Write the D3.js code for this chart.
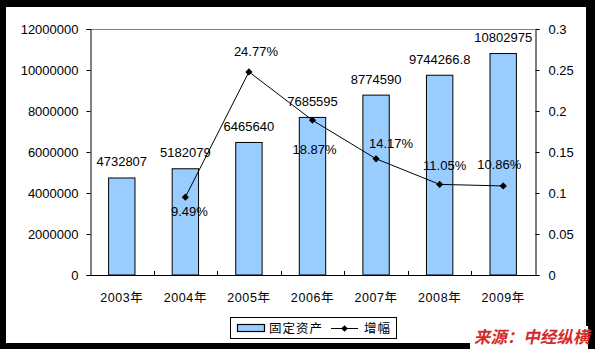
<!DOCTYPE html>
<html>
<head>
<meta charset="utf-8">
<script src="https://cdn.jsdelivr.net/npm/d3@7/dist/d3.min.js"></script>
<style>
  html, body { margin: 0; padding: 0; background: #000; }
  svg { display: block; }
  text { font-family: "Liberation Sans", Arial, "Noto Sans CJK SC", sans-serif; }
</style>
</head>
<body>
<svg id="chart" width="595" height="349"></svg>
<script>
// Fixed-asset investment by year and its year-on-year growth
const years = ["2003年", "2004年", "2005年", "2006年", "2007年", "2008年", "2009年"];
const assetValues = [4732807, 5182079, 6465640, 7685595, 8774590, 9744266.8, 10802975];
const assetLabels = ["4732807", "5182079", "6465640", "7685595", "8774590", "9744266.8", "10802975"];
const growthYears = ["2004年", "2005年", "2006年", "2007年", "2008年", "2009年"];
const growthValues = [0.0949, 0.2477, 0.1887, 0.1417, 0.1105, 0.1086];
const growthLabels = ["9.49%", "24.77%", "18.87%", "14.17%", "11.05%", "10.86%"];
const leftTicks = [0, 2000000, 4000000, 6000000, 8000000, 10000000, 12000000];
const rightTicks = [0, 0.05, 0.1, 0.15, 0.2, 0.25, 0.3];
const legendNames = ["固定资产", "增幅"];
const sourceText = "来源：中经纵横";

// Label placement around each growth point (dx, dy of baseline)
const growthLabelOffsets = [[4, 19], [7, -16], [2, 34], [15, -11], [5, -14], [-4, -17]];

const svg = d3.select("#chart");
const W = 595, H = 349;
const plot = { left: 90, right: 535, top: 29, bottom: 275 };

// white canvas inside the black frame
svg.append("rect").attr("x", 6).attr("y", 7).attr("width", 580).attr("height", 336).attr("fill", "#fff");

const x = d3.scaleBand().domain(years).range([plot.left, plot.right]).padding(0);
const yL = d3.scaleLinear().domain([0, 12000000]).range([plot.bottom, plot.top]);
const yR = d3.scaleLinear().domain([0, 0.3]).range([plot.bottom, plot.top]);

// plot top edge
svg.append("line")
  .attr("x1", plot.left).attr("x2", plot.right)
  .attr("y1", plot.top + 0.5).attr("y2", plot.top + 0.5)
  .attr("stroke", "#808080").attr("stroke-width", 1);

// bars
const barW = x.bandwidth() * 0.415;
svg.append("g").selectAll("rect")
  .data(assetValues)
  .join("rect")
  .attr("x", (d, i) => x(years[i]) + (x.bandwidth() - barW) / 2)
  .attr("y", d => yL(d))
  .attr("width", barW)
  .attr("height", d => plot.bottom - yL(d))
  .attr("fill", "#99CCFF")
  .attr("stroke", "#000")
  .attr("stroke-width", 1);

// left axis
const leftAxis = d3.axisLeft(yL).tickValues(leftTicks).tickFormat(d3.format("d")).tickSize(4).tickPadding(8);
const gL = svg.append("g").attr("transform", `translate(${plot.left + 0.5},0)`).call(leftAxis);
gL.select(".domain").attr("stroke", "#000");
gL.selectAll(".tick line").attr("stroke", "#000");
gL.selectAll("text").attr("font-size", 13).attr("fill", "#000")
  .attr("font-family", "'Liberation Sans', Arial, sans-serif");

// right axis
const rightAxis = d3.axisRight(yR).tickValues(rightTicks).tickFormat(d => d === 0 ? "0" : String(+d.toFixed(2))).tickSize(4).tickPadding(9);
const gR = svg.append("g").attr("transform", `translate(${plot.right + 0.5},0)`).call(rightAxis);
gR.select(".domain").attr("stroke", "#000");
gR.selectAll(".tick line").attr("stroke", "#000");
gR.selectAll("text").attr("font-size", 13).attr("fill", "#000")
  .attr("font-family", "'Liberation Sans', Arial, sans-serif");

// bottom axis: category boundary ticks pointing into the plot
svg.append("line")
  .attr("x1", plot.left).attr("x2", plot.right + 1)
  .attr("y1", plot.bottom + 0.5).attr("y2", plot.bottom + 0.5)
  .attr("stroke", "#000");
svg.append("g").selectAll("line")
  .data(years.slice(1))
  .join("line")
  .attr("x1", d => Math.round(x(d)) + 0.5).attr("x2", d => Math.round(x(d)) + 0.5)
  .attr("y1", plot.bottom).attr("y2", plot.bottom - 4)
  .attr("stroke", "#000");
svg.append("g").selectAll("text")
  .data(years)
  .join("text")
  .attr("x", d => x(d) + x.bandwidth() / 2)
  .attr("y", 302)
  .attr("text-anchor", "middle")
  .attr("font-size", 12.5)
  .attr("letter-spacing", 0.6)
  .attr("fill", "#000")
  .text(d => d);

// bar value labels
svg.append("g").selectAll("text")
  .data(assetValues)
  .join("text")
  .attr("x", (d, i) => x(years[i]) + x.bandwidth() / 2)
  .attr("y", d => yL(d) - 11.5)
  .attr("text-anchor", "middle")
  .attr("font-size", 13)
  .attr("fill", "#000")
  .text((d, i) => assetLabels[i]);

// growth line
const cx = i => x(growthYears[i]) + x.bandwidth() / 2;
const line = d3.line().x((d, i) => cx(i)).y(d => yR(d));
svg.append("path")
  .datum(growthValues)
  .attr("d", line)
  .attr("fill", "none")
  .attr("stroke", "#000")
  .attr("stroke-width", 1);

const diamond = d3.symbol().type(d3.symbolDiamond2 || d3.symbolDiamond).size(36);
svg.append("g").selectAll("path")
  .data(growthValues)
  .join("path")
  .attr("transform", (d, i) => `translate(${cx(i)},${yR(d)}) rotate(0)`)
  .attr("d", d3.symbol().type(d3.symbolSquare).size(26))
  .attr("transform", (d, i) => `translate(${cx(i)},${yR(d)}) rotate(45)`)
  .attr("fill", "#000");

svg.append("g").selectAll("text")
  .data(growthValues)
  .join("text")
  .attr("x", (d, i) => cx(i) + growthLabelOffsets[i][0])
  .attr("y", (d, i) => yR(d) + growthLabelOffsets[i][1])
  .attr("text-anchor", "middle")
  .attr("font-size", 13)
  .attr("fill", "#000")
  .text((d, i) => growthLabels[i]);

// legend
const lg = svg.append("g");
lg.append("rect").attr("x", 230.5).attr("y", 317.5).attr("width", 166).attr("height", 21)
  .attr("fill", "#fff").attr("stroke", "#000");
lg.append("rect").attr("x", 237.5).attr("y", 324.5).attr("width", 27).attr("height", 7)
  .attr("fill", "#99CCFF").attr("stroke", "#000").attr("stroke-width", 1.2);
lg.append("text").attr("x", 269).attr("y", 333).attr("font-size", 12.5)
  .attr("font-family", "'Noto Sans CJK SC', sans-serif").attr("letter-spacing", 1).attr("fill", "#000")
  .text(legendNames[0]);
lg.append("line").attr("x1", 331).attr("x2", 358).attr("y1", 328.5).attr("y2", 328.5).attr("stroke", "#000");
lg.append("path").attr("d", d3.symbol().type(d3.symbolSquare).size(22))
  .attr("transform", "translate(344.5,328.5) rotate(45)").attr("fill", "#000");
lg.append("text").attr("x", 364).attr("y", 333).attr("font-size", 12.5)
  .attr("font-family", "'Noto Sans CJK SC', sans-serif").attr("letter-spacing", 1).attr("fill", "#000")
  .text(legendNames[1]);

// source note
svg.append("rect").attr("x", 470).attr("y", 326).attr("width", 118).attr("height", 23).attr("fill", "#fff");
svg.append("text")
  .attr("x", 0).attr("y", 0)
  .attr("transform", "translate(474,343) skewX(-12)")
  .attr("font-size", 16.5)
  .attr("font-weight", "bold")
  .attr("font-family", "'Noto Sans CJK SC', sans-serif")
  .attr("fill", "#D42A2A")
  .text(sourceText);
</script>
</body>
</html>
